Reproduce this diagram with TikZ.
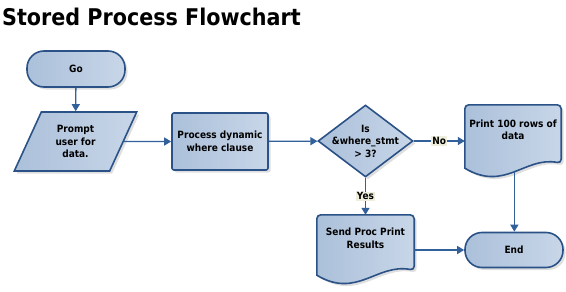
\documentclass[tikz,border=0pt]{standalone}
\usepackage{fontspec}
\setmainfont{DejaVu Sans Condensed}
\usepackage{tikz}
\usetikzlibrary{shapes, shapes.geometric, shapes.misc, arrows.meta, positioning, calc, shadows}
\definecolor{flowborder}{HTML}{2B5287}
\definecolor{flowline}{HTML}{32609A}
\definecolor{flowfillA}{HTML}{ABC0DA}
\definecolor{flowfillB}{HTML}{C8D6E8}
\definecolor{flowlabel}{HTML}{EFEEDD}

% document outline with a wavy bottom, drawn round a named node
\newcommand{\docoutline}[1]{%
  \draw[docline] ($(#1.south west)+(0,13)$) [rounded corners=4pt] -- (#1.north west) -- (#1.north east)
    -- ($(#1.south east)+(0,8)$) [sharp corners]
    .. controls ($(#1.south west)+(60,1)$) and ($(#1.south west)+(40,37)$) .. ($(#1.south west)+(0,13)$)
    coordinate[pos=0.5] (#1tail) -- cycle;
  \node[doctext] at (#1) {\csname #1text\endcsname};
}

\begin{document}
\begin{tikzpicture}[x=1pt, y=-1pt,
    every node/.style={font=\fontsize{10}{12.5}\selectfont\bfseries, align=center},
    shapebox/.style={draw=flowborder, line width=1.6pt, left color=flowfillA, right color=flowfillB,
      drop shadow={shadow xshift=2.5pt, shadow yshift=-2.5pt, opacity=0.25}},
    terminal/.style={shapebox, rectangle, rounded corners=17pt, minimum width=98pt, minimum height=36pt},
    io/.style={shapebox, trapezium, trapezium left angle=64, trapezium right angle=116,
      trapezium stretches=true, minimum width=123pt, minimum height=59pt, inner sep=0pt},
    proc/.style={shapebox, rectangle, rounded corners=2pt, minimum width=96pt, minimum height=57pt},
    decision/.style={shapebox, diamond, minimum width=95pt, minimum height=72pt, inner sep=0pt},
    docbody/.style={rectangle, minimum width=96pt, minimum height=#1},
    docline/.style={shapebox},
    doctext/.style={},
    edgelabel/.style={fill=flowlabel, inner sep=1pt},
    flow/.style={draw=flowline, line width=1.3pt, -{Triangle[length=7pt, width=8pt]}}
  ]
  \useasboundingbox (0,0) rectangle (566,292);

  % Title
  \node[anchor=base west, inner sep=0pt, font=\fontsize{23}{26}\selectfont\bfseries] (title) at (2,25)
    {Stored Process Flowchart};

  % Shapes
  \node[terminal] (go) at (76,69) {Go};
  \node[io] (prompt) at (75.5,141.5) {Prompt\\user for\\data.};
  \node[proc] (process) at (220,141.5) {Process dynamic\\where clause};
  \node[decision, label={[align=center]center:Is\\\&where\_stmt\\> 3?}] (check) at (365.5,141) {};
  \node[terminal, minimum height=35pt] (end) at (514,250) {End};

  % Documents
  \node[docbody=50pt] (print) at (513,130) {};
  \def\printtext{Print 100 rows of\\data}
  \docoutline{print}
  \node[docbody=47pt, minimum width=97pt] (send) at (365.5,238.5) {};
  \def\sendtext{Send Proc Print\\Results}
  \docoutline{send}

  % Connectors
  \draw[flow] (go) -- (prompt);
  \draw[flow] (prompt.east) -- (process.west);
  \draw[flow] (process) -- (check);
  \draw[flow] (check.east) -- node[edgelabel] {No} (check.east -| print.west);
  \draw[flow] (check.south) -- node[edgelabel] {Yes} (send.north);
  \draw[flow] (printtail) -- (printtail |- end.north);
  \draw[flow] (send.east |- end.west) -- (end.west);
\end{tikzpicture}
\end{document}
